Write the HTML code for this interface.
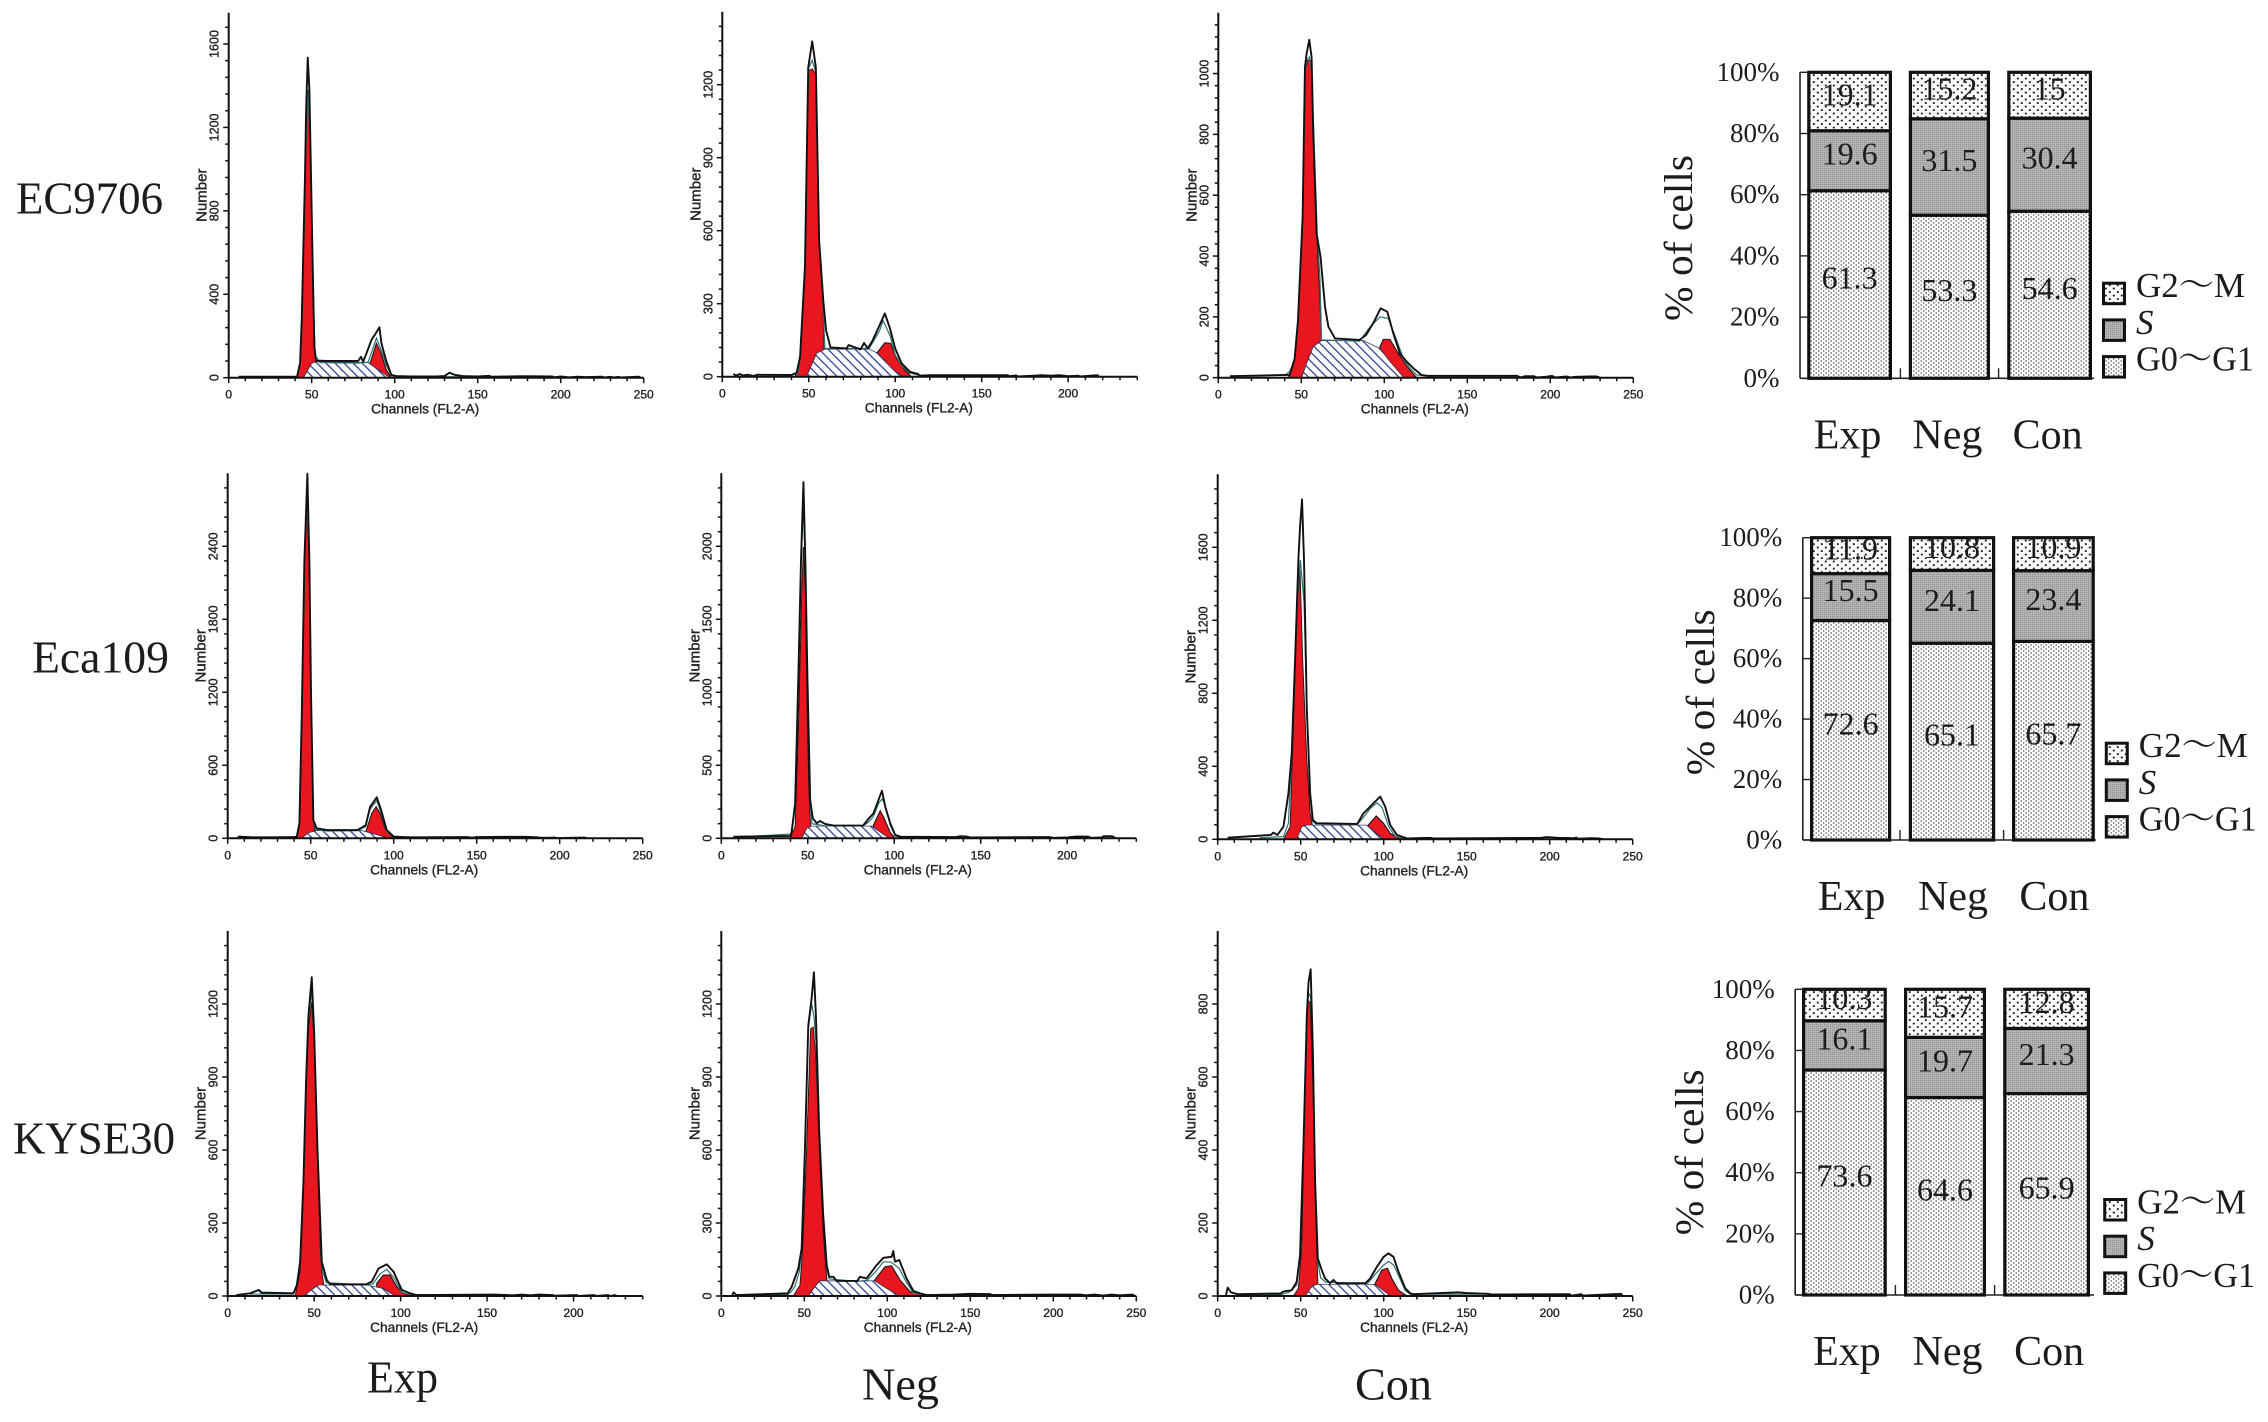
<!DOCTYPE html>
<html lang="en">
<head>
<meta charset="utf-8">
<title>Cell cycle flow cytometry histograms and phase distribution</title>
<style>
html,body{margin:0;padding:0;background:#fff;}
svg{display:block;}
.serif{font-family:"Liberation Serif","Noto Serif CJK SC",serif;fill:#1c1c1c;}
.sans{font-family:"Liberation Sans",sans-serif;fill:#222;stroke:#222;stroke-width:.35px;}
</style>
</head>
<body>
<svg id="figure" xmlns="http://www.w3.org/2000/svg" width="2268" height="1422" viewBox="0 0 2268 1422">
  <defs>
    <pattern id="hatch" patternUnits="userSpaceOnUse" width="6.4" height="6.4" patternTransform="rotate(45)">
      <rect width="6.4" height="6.4" fill="#fff"/>
      <rect y="0" width="6.4" height="1.3" fill="#34458f"/>
    </pattern>
    <pattern id="dots-g0g1" patternUnits="userSpaceOnUse" width="5" height="4">
      <rect width="5" height="4" fill="#fafafa"/>
      <circle cx="1.2" cy="1" r=".7" fill="#444"/>
      <circle cx="3.7" cy="3" r=".7" fill="#444"/>
    </pattern>
    <pattern id="dots-s" patternUnits="userSpaceOnUse" width="2" height="2">
      <rect width="2" height="2" fill="#b4b4b4"/>
      <rect width="1" height="1" fill="#8e8e8e"/>
    </pattern>
    <pattern id="dots-g2m" patternUnits="userSpaceOnUse" width="8" height="7">
      <rect width="8" height="7" fill="#fbfbfb"/>
      <circle cx="1.8" cy="1.6" r="1.05" fill="#222"/>
      <circle cx="5.8" cy="5.1" r="1.05" fill="#222"/>
    </pattern>
  </defs>
  <rect width="2268" height="1422" fill="#fff"/>

  <text class="serif" x="16" y="213.5" font-size="46" textLength="147" lengthAdjust="spacingAndGlyphs">EC9706</text>
  <text class="serif" x="32" y="672.5" font-size="46" textLength="137" lengthAdjust="spacingAndGlyphs">Eca109</text>
  <text class="serif" x="13" y="1153.5" font-size="46" textLength="162" lengthAdjust="spacingAndGlyphs">KYSE30</text>

  <text class="serif" x="367" y="1392.5" font-size="46" textLength="71" lengthAdjust="spacingAndGlyphs">Exp</text>
  <text class="serif" x="862" y="1399.5" font-size="46" textLength="77" lengthAdjust="spacingAndGlyphs">Neg</text>
  <text class="serif" x="1355" y="1399.5" font-size="46" textLength="77" lengthAdjust="spacingAndGlyphs">Con</text>

  <g id="histograms"></g>
  <g id="barcharts"></g>
</svg>

<script>
/* ---------- histogram data (channels, counts), one entry per panel ---------- */
const cellLines = ['ec9706', 'eca109', 'kyse30'];
const groups = ['exp', 'neg', 'con'];
const xDomainMax = [250, 240, 250, 250, 240, 250, 240, 250, 250];
const yDomainMax = [1750, 1500, 1200, 3000, 2500, 2000, 1500, 1500, 1000];
const yTickStep = [400, 300, 200, 600, 500, 400, 300, 300, 200];

const histChannels = [
  [6,40,41,43,44,46,46.6,47.6,48.6,49.4,50.6,51.6,52.6,60,70,78,79.7,81,83,86,88,90.8,92,95,98,101,110,125,130,133,136,141,150,157,158,178,195,196,200,205,210,215,225,226,230,232,235,236,247,248],
  [6.4,8,10,12,15,18,20,40,43,45,47.8,49.7,52,54.1,56,58.4,60,62.6,72,73,80,82,84,87,91,94,97,100,103.7,108.5,113.3,114,120,165,166,170,171,180,185,190,195,200,206,207,217,218],
  [7,40,43,46,48,50.8,52.2,53.2,54.8,56.2,57.2,59.2,61.6,64.3,66.3,70.3,85,89,93.8,97.8,101.8,105.4,109.4,113.5,117.5,122.5,126.5,180,182,185,190,192,197,201,203,210,212,215,224,228,230],
  [6,15,40,41.6,43.2,44.6,46.2,48,49.2,50.2,51.6,53.6,60,78,80.8,83.2,85.8,89.8,92.4,95.8,100,110,145,146,150,165,180,187,188,197,198,215,216],
  [7,40,40.7,42.7,44.6,46.1,47.5,48.6,49.8,51.4,52.9,55.2,57.1,60,65,82,85,88,90.9,92.9,94.8,97.7,100.6,103.5,135,138,142,144,190,192,200,205,212,214,220,221,226,228],
  [6,22,32,33.5,36,39.6,42.6,44.6,46.6,48.6,49.6,50.8,52,53.7,55.7,57.3,59.7,84,87.8,92.8,97.9,100.9,103.9,107.9,114,128,130,195,198,205,215,216,217,225,230,232],
  [5,13,18,19.5,38,40,41.9,43.8,45.3,46.7,48.6,50,51.9,54.4,57.3,59.2,80,83.3,87.2,92,95.9,100.7,105.5,109,154,158,165,170,175,180,188,189,202,203,212,213,220,221,224,225],
  [6.5,7.5,9,40,42.4,46.4,48.4,50.4,52.4,54.4,55.8,57,59,61.4,63.5,65,67.5,69.5,82,83.5,87.5,93.6,97.6,102.6,103.6,104.6,107.2,111.6,115.7,119.7,123.7,140,150,162,163,200,216,220,225,230,235,240,248,249],
  [5,6,8,12,38,39.5,44.6,47.6,49.6,51.6,53.7,54.7,56,57.3,58.7,60.3,62.7,64.7,67.7,69.7,71.7,89,91.8,95.9,99.9,102.9,105.9,108.9,113,116,118,145,150,163,165,212,213,219,220,243,244]
];
const histCounts = [
  [5,5,0,70,277,983,1270,1535,1383,1047,534,150,82,80,80,80,100,77,117,181,205,242,165,77,13,8,6,6,8,24,14,8,6,9,5,7,6,2,6,2,5,3,5,1,4,1,4,1,5,0],
  [11,5,11,5,8,3,8,7,16,82,451,1271,1378,1271,560,314,191,120,116,130,112,139,116,150,212,260,198,116,55,20,11,4,6,6,2,5,1,4,6,4,6,2,4,1,6,0],
  [5,9,9,63,189,529,1022,1065,1111,1054,803,474,397,233,168,129,124,140,184,228,217,146,80,53,31,9,6,6,1,5,5,1,3,6,1,4,1,3,4,4,0],
  [14,8,8,14,123,999,2285,2997,2285,1190,150,82,68,68,88,109,260,337,233,68,14,8,10,4,10,12,12,8,3,6,2,6,1],
  [11,16,46,239,1129,1904,2440,1904,1106,262,137,103,119,98,87,87,132,171,262,326,217,103,23,11,8,14,12,6,8,3,6,12,12,3,6,14,14,2],
  [9,18,24,37,24,69,252,471,982,1530,1713,1862,1530,708,252,106,88,84,142,188,234,179,79,24,5,8,5,8,12,8,6,10,3,6,5,0],
  [4,11,25,14,11,45,141,469,879,1152,1310,1084,606,141,66,48,48,59,113,130,100,25,11,4,6,5,3,6,3,6,4,1,4,0,4,0,4,0,4,0],
  [4,15,4,11,38,113,195,606,1111,1221,1330,1152,674,332,127,79,79,62,62,79,72,127,157,161,185,141,148,72,21,11,4,6,9,8,4,6,6,3,6,2,6,3,6,0],
  [3,23,10,5,7,12,16,39,112,403,768,859,895,677,312,103,71,48,35,44,35,35,48,80,107,117,107,67,21,7,5,10,8,6,4,5,1,5,1,6,0]
];
const fitChannels = [
  [41,43,44,46,47.6,49.4,50.6,52,55,78,84,86,89,92,95,98,101,195],
  [42.7,44.5,47.8,49.7,52,54.1,56,58,58.4,59.3,62,85,91,93,97,100,103.7,108.5,114,165],
  [39.6,43,46,48,50.8,52.2,53.2,54.8,56.2,57.7,59.6,61.2,62.2,85,91.4,97.4,102.4,107.4,111.4,115.5,119.5,125,180],
  [15,41.6,43.2,44.6,46.2,47.6,49.2,50.2,51.6,53,60,78,83,85.8,89.8,92.4,95.8,100,190],
  [10,40.7,42.7,44.6,46.1,47.5,48.6,49.8,51.4,52.5,60,82,85,88,91,93,95,97.7,100.6,105,190],
  [25,39.6,42.6,44.6,46.6,48.6,49.8,52,53.7,55.7,57,59,84,87.8,92,96,99,103,107,112,195],
  [13,38,40,41.9,43.8,45.3,46.7,48.6,50,51.9,54,55,57,80,84,88,92,96,100.7,105,110,155],
  [10,40,42.4,44.4,47,48.4,50.4,52.4,54.4,55.8,57,59,61.4,63.5,65,82,88,93.6,97.6,102,107,111.6,115.7,120,216],
  [12,38,43,47.6,49.6,51.6,53.7,54.7,56,57.3,58.7,60.3,62,65,90,95,100,103,106,109,113,116,210]
];
const fitCounts = [
  [0,60,260,970,1380,1040,530,110,72,70,75,120,190,130,60,10,4,6],
  [4,30,440,1265,1300,1250,550,330,273,116,116,116,190,230,170,90,45,15,6,6],
  [6,20,55,180,525,1000,1043,1054,1000,780,474,332,124,120,167,200,195,124,64,31,9,6,6],
  [8,14,115,990,2270,2805,2270,1180,140,70,60,62,95,240,310,210,55,10,8],
  [8,30,220,1100,1880,2269,1880,1100,230,100,85,85,110,150,240,270,220,90,15,6,8],
  [8,15,88,471,982,1400,1530,1300,708,252,100,85,80,120,170,200,175,70,15,5,6],
  [8,8,40,130,460,870,1140,1255,1070,600,160,100,55,45,50,90,110,75,15,6,5,5],
  [5,5,20,40,100,190,600,1100,1200,1150,1050,660,320,110,70,60,65,105,140,140,115,55,12,6,5],
  [4,4,10,30,105,395,760,830,820,660,305,95,50,38,33,60,85,95,85,55,15,5,5]
];
const g1Channels = [
  [41,43,44,46,47.6,49.4,50.6,52,54,58],
  [42,44.5,47.8,49.7,52,54.1,56,58,58.8,60],
  [42,46,48,50.8,52.2,53.6,56.2,57.6,59.2,61.2,62.2,63.2],
  [41.6,43.2,44.6,46.2,47.4,49.2,50.2,51.6,52.5,54],
  [39.8,42.7,44.6,46.5,47.5,48.6,49.8,51,52.3],
  [39.6,43.6,45.6,47.6,49.6,51.2,53.7,55.7,57,58.7],
  [39,41.9,43.8,45.3,46.7,48.6,50,51.9,53.5,54.4,55.5,57],
  [43.4,47.4,49,51.4,53.8,55.4,57,59,61.4,63,64.5],
  [45.6,48.6,50.6,52.7,54,55.7,57.3,58.7,60.3,61.7]
];
const g1Counts = [
  [0,60,260,970,1380,1040,530,100,50,0],
  [0,41,451,1258,1265,1244,560,342,123,0],
  [0,53,189,529,1000,1043,1043,780,474,255,124,0],
  [0,115,990,2270,2780,2270,1180,140,60,0],
  [0,80,764,1676,1995,1676,764,194,11],
  [0,69,617,1256,1475,982,435,142,78,0],
  [0,100,430,840,1100,1210,1040,580,200,100,50,0],
  [0,45,195,606,1098,1105,975,606,264,113,0],
  [0,21,130,586,813,804,586,267,39,0]
];
const sChannels = [
  [45,50,53,84,97],
  [48.7,54.5,59.3,85,90,99,104.6],
  [50.2,53.2,57.2,62.2,87.4,97.4,103.4,111.4,112.4],
  [44.6,48.6,53.6,80.8,86.8,93.8,95.8],
  [46.5,49.4,52.3,87,94.2,97.7],
  [47.6,50.6,53.7,89.8,99.9],
  [43.8,49.6,52.5,80.4,90,95.9,97],
  [52.4,56.4,59.4,92.6,99.6,107.6],
  [52.7,56.7,59.7,94.9,104]
];
const sCounts = [
  [0,69,77,72,0],
  [0,96,113,113,96,27,0],
  [0,47,102,122,122,96,53,3,0],
  [0,46,63,63,41,14,0],
  [0,68,84,84,23,0],
  [0,69,78,78,0],
  [0,31,45,45,31,4,0],
  [0,38,62,62,31,0],
  [0,26,32,32,0]
];
const g2Channels = [
  [84.7,86,89,91.8,95,98],
  [89.2,94,97.3,100.8,105.6,109.4],
  [97.4,99.4,103.4,108.4,114.5,119.5],
  [83.4,86.8,89.4,91.8,94.8,100],
  [88,91.9,94.2,97.7,100.6],
  [89.8,95.5,99.9,103.9,110],
  [86.2,90,93.9,97.8,101.6,108.4],
  [91.6,98.6,102.6,107.6,113.7,123.7],
  [94.9,98.9,102.3,104.9,108.9,114]
];
const g2Counts = [
  [61,90,165,117,37,0],
  [96,139,137,75,27,0],
  [102,126,126,80,31,0],
  [63,205,260,205,82,0],
  [91,189,137,39,0],
  [69,128,88,33,0],
  [52,86,86,38,11,0],
  [59,120,124,66,18,0],
  [35,71,76,48,16,0]
];

/* ---------- stacked bar data (percent of cells) ---------- */
const barCategories = ['Exp', 'Neg', 'Con'];
const percentTicks = [0, 20, 40, 60, 80, 100];
const g0g1Values = [[61.3, 53.3, 54.6], [72.6, 65.1, 65.7], [73.6, 64.6, 65.9]];
const sValues = [[19.6, 31.5, 30.4], [15.5, 24.1, 23.4], [16.1, 19.7, 21.3]];
const g2mValues = [[19.1, 15.2, 15], [11.9, 10.8, 10.9], [10.3, 15.7, 12.8]];
const phaseNames = ['G2～M', 'S', 'G0～G1'];

/* ---------- layout only (not data) ---------- */
const panelFrame = {w: 415, h: 365};
const panelLeft = [228.7, 722.3, 1218.3, 227.7, 721.3, 1217.7, 227.7, 721.3, 1217.7];
const panelBottom = [377.7, 376.7, 377.7, 838.3, 838.3, 839.3, 1296, 1296, 1296];
const barFrames = [
  {axis: 1800, lefts: [1807.2, 1908.8, 2007.2], widths: [84.8, 81.2, 84.8], y0: 378.3, y100: 72.3, right: 2094, labelShift: -2, labelBase: 448.3, titleX: 1692, titleY: 238, legendBox: 2102, legendTop: 281.7, legendStep: 36.7, legendText: 2136},
  {axis: 1802.8, lefts: [1810, 1908.8, 2012], widths: [81.2, 86.4, 82.8], y0: 840, y100: 537.7, right: 2096, labelShift: 1, labelBase: 910, titleX: 1714, titleY: 692.3, legendBox: 2104.8, legendTop: 741.7, legendStep: 36.7, legendText: 2138.8},
  {axis: 1795.2, lefts: [1802, 1904, 2003.2], widths: [84.8, 82, 86.8], y0: 1295, y100: 989.3, right: 2094, labelShift: 2.5, labelBase: 1365, titleX: 1703.2, titleY: 1152.3, legendBox: 2103.2, legendTop: 1198, legendStep: 36.7, legendText: 2137.2}
];

const NS = 'http://www.w3.org/2000/svg';
function make(tag, parent, attrs) {
  const node = document.createElementNS(NS, tag);
  for (const key in attrs) node.setAttribute(key, attrs[key]);
  parent.appendChild(node);
  return node;
}

function drawPanel(i) {
  const row = Math.floor(i / 3);
  const col = i % 3;
  const left = panelLeft[i];
  const bottom = panelBottom[i];
  const W = panelFrame.w;
  const H = panelFrame.h;
  const x = function (ch) { return left + ch / xDomainMax[i] * W; };
  const y = function (ct) { return bottom - ct / yDomainMax[i] * H; };
  const pts = function (chs, cts) { return chs.map(function (c, k) { return x(c).toFixed(2) + ',' + y(cts[k]).toFixed(2); }); };
  const closed = function (chs, cts) {
    return [x(chs[0]).toFixed(2) + ',' + y(0).toFixed(2)].concat(pts(chs, cts), [x(chs[chs.length - 1]).toFixed(2) + ',' + y(0).toFixed(2)]).join(' ');
  };

  const g = make('g', document.getElementById('histograms'), {});
  
  

  const g1 = make('polygon', g, {points: closed(g1Channels[i], g1Counts[i]), fill: '#e8171f', stroke: '#161616', 'stroke-width': '.9'});
  
  

  const g2 = make('polygon', g, {points: closed(g2Channels[i], g2Counts[i]), fill: '#e8171f', stroke: '#161616', 'stroke-width': '1.1'});
  
  

  const s = make('polygon', g, {points: closed(sChannels[i], sCounts[i]), fill: 'url(#hatch)', stroke: '#1c2350', 'stroke-width': '.7'});
  
  

  const fit = make('polyline', g, {points: pts(fitChannels[i], fitCounts[i]).join(' '), fill: 'none', stroke: '#2f6f6f', 'stroke-width': '1.2'});
  
  

  const hist = make('polyline', g, {points: pts(histChannels[i], histCounts[i]).join(' '), fill: 'none', stroke: '#111', 'stroke-width': '1.9', 'stroke-linejoin': 'round'});
  
  

  const xAxis = make('line', g, {x1: left, x2: left + W, y1: bottom, y2: bottom, stroke: '#111', 'stroke-width': '2'});
  
  

  const yAxis = make('line', g, {x1: left, x2: left, y1: bottom - H, y2: bottom + 1, stroke: '#111', 'stroke-width': '2'});
  
  

  for (let v = 0; v <= xDomainMax[i]; v += 10) {
    const major = v % 50 === 0;
    const tick = make('line', g, {x1: x(v), x2: x(v), y1: bottom, y2: bottom + (major ? 5.5 : 3.5), stroke: '#111', 'stroke-width': '1.5'});
    
    
    if (major) {
      const t = make('text', g, {x: x(v), y: bottom + 21, 'text-anchor': 'middle', 'font-size': '12', 'class': 'sans'});
      
      
      t.textContent = String(v);
    }
  }

  const minor = yTickStep[i] / 5;
  for (let k = 0; k * minor < yDomainMax[i]; k++) {
    const v = k * minor;
    const major = k % 5 === 0;
    const tick = make('line', g, {x1: left - (major ? 5.5 : 3.5), x2: left, y1: y(v), y2: y(v), stroke: '#111', 'stroke-width': '1.5'});
    
    
    if (major) {
      const t = make('text', g, {transform: 'translate(' + (left - 10) + ',' + y(v) + ') rotate(-90)', 'text-anchor': 'middle', 'font-size': '12.5', 'class': 'sans'});
      
      
      t.textContent = String(v);
    }
  }

  const xTitle = make('text', g, {x: left + W / 2 - 11, y: bottom + 36, 'text-anchor': 'middle', 'font-size': '13.7', 'class': 'sans'});
  
  
  xTitle.textContent = 'Channels (FL2-A)';

  const yTitle = make('text', g, {transform: 'translate(' + (left - 22) + ',' + (bottom - H / 2) + ') rotate(-90)', 'text-anchor': 'middle', 'font-size': '15', 'class': 'sans'});
  
  
  yTitle.textContent = 'Number';
}

function drawBars(r) {
  const f = barFrames[r];
  const y = function (p) { return f.y0 - p / 100 * (f.y0 - f.y100); };
  const g = make('g', document.getElementById('barcharts'), {});
  
  

  const axisY = make('line', g, {x1: f.axis, x2: f.axis, y1: f.y100, y2: f.y0, stroke: '#222', 'stroke-width': '1.6'});
  
  

  const axisX = make('line', g, {x1: f.axis, x2: f.right, y1: f.y0, y2: f.y0, stroke: '#222', 'stroke-width': '1.6'});
  
  

  percentTicks.forEach(function (p) {
    const tick = make('line', g, {x1: f.axis, x2: f.lefts[0], y1: y(p), y2: y(p), stroke: '#222', 'stroke-width': '1.4'});
    
    
    const t = make('text', g, {x: f.axis - 20.5, y: y(p) + 8.5, 'text-anchor': 'end', 'font-size': '27', 'class': 'serif'});
    
    
    t.textContent = p + '%';
  });

  for (let k = 0; k < 2; k++) {
    const mid = (f.lefts[k] + f.widths[k] + f.lefts[k + 1]) / 2;
    const tick = make('line', g, {x1: mid, x2: mid, y1: f.y0, y2: f.y0 - 10, stroke: '#222', 'stroke-width': '1.4'});
    
    
  }

  const title = make('text', g, {transform: 'translate(' + f.titleX + ',' + f.titleY + ') rotate(-90)', 'text-anchor': 'middle', 'font-size': '40', textLength: '166', lengthAdjust: 'spacingAndGlyphs', 'class': 'serif'});
  
  
  title.textContent = '% of cells';

  barCategories.forEach(function (cat, c) {
    const lo = f.lefts[c] + 1.6;
    const w = f.widths[c] - 3.2;
    const a = g0g1Values[r][c];
    const b = sValues[r][c];
    const d = g2mValues[r][c];
    const cx = f.lefts[c] + f.widths[c] / 2;
    const segments = [
      {name: 'g0-g1', start: 0, value: a, fill: 'url(#dots-g0g1)'},
      {name: 's', start: a, value: b, fill: 'url(#dots-s)'},
      {name: 'g2-m', start: a + b, value: d, fill: 'url(#dots-g2m)'}
    ];
    segments.forEach(function (seg) {
      const top = y(seg.start + seg.value);
      const bot = y(seg.start);
      const rect = make('rect', g, {x: lo, y: top, width: w, height: bot - top, fill: seg.fill, stroke: '#111', 'stroke-width': '3.2'});
      
      
    });
    segments.forEach(function (seg) {
      const mid = y(seg.start + seg.value / 2);
      const t = make('text', g, {x: cx, y: mid + 4, 'text-anchor': 'middle', 'font-size': '32', 'class': 'serif'});
      
      
      t.textContent = String(seg.value);
    });
    const lab = make('text', g, {x: cx + f.labelShift, y: f.labelBase, 'text-anchor': 'middle', 'font-size': '42', 'class': 'serif'});
    
    
    lab.textContent = cat;
  });

  const fills = ['url(#dots-g2m)', 'url(#dots-s)', 'url(#dots-g0g1)'];
  phaseNames.forEach(function (name, k) {
    const top = f.legendTop + k * f.legendStep;
    const box = make('rect', g, {x: f.legendBox + 1.5, y: top + 1.5, width: 21, height: 20.5, fill: fills[k], stroke: '#111', 'stroke-width': '3'});
    
    
    const attrs = {x: f.legendText, y: top + 15.5, 'font-size': '35', 'class': 'serif'};
    if (k === 0) { attrs.textLength = '109'; attrs.lengthAdjust = 'spacingAndGlyphs'; }
    if (k === 2) { attrs.textLength = '118'; attrs.lengthAdjust = 'spacingAndGlyphs'; }
    if (k === 1) { attrs['font-style'] = 'italic'; }
    const t = make('text', g, attrs);
    
    
    t.textContent = name;
  });
}

for (let i = 0; i < 9; i++) drawPanel(i);
for (let r = 0; r < 3; r++) drawBars(r);
</script>
</body>
</html>
